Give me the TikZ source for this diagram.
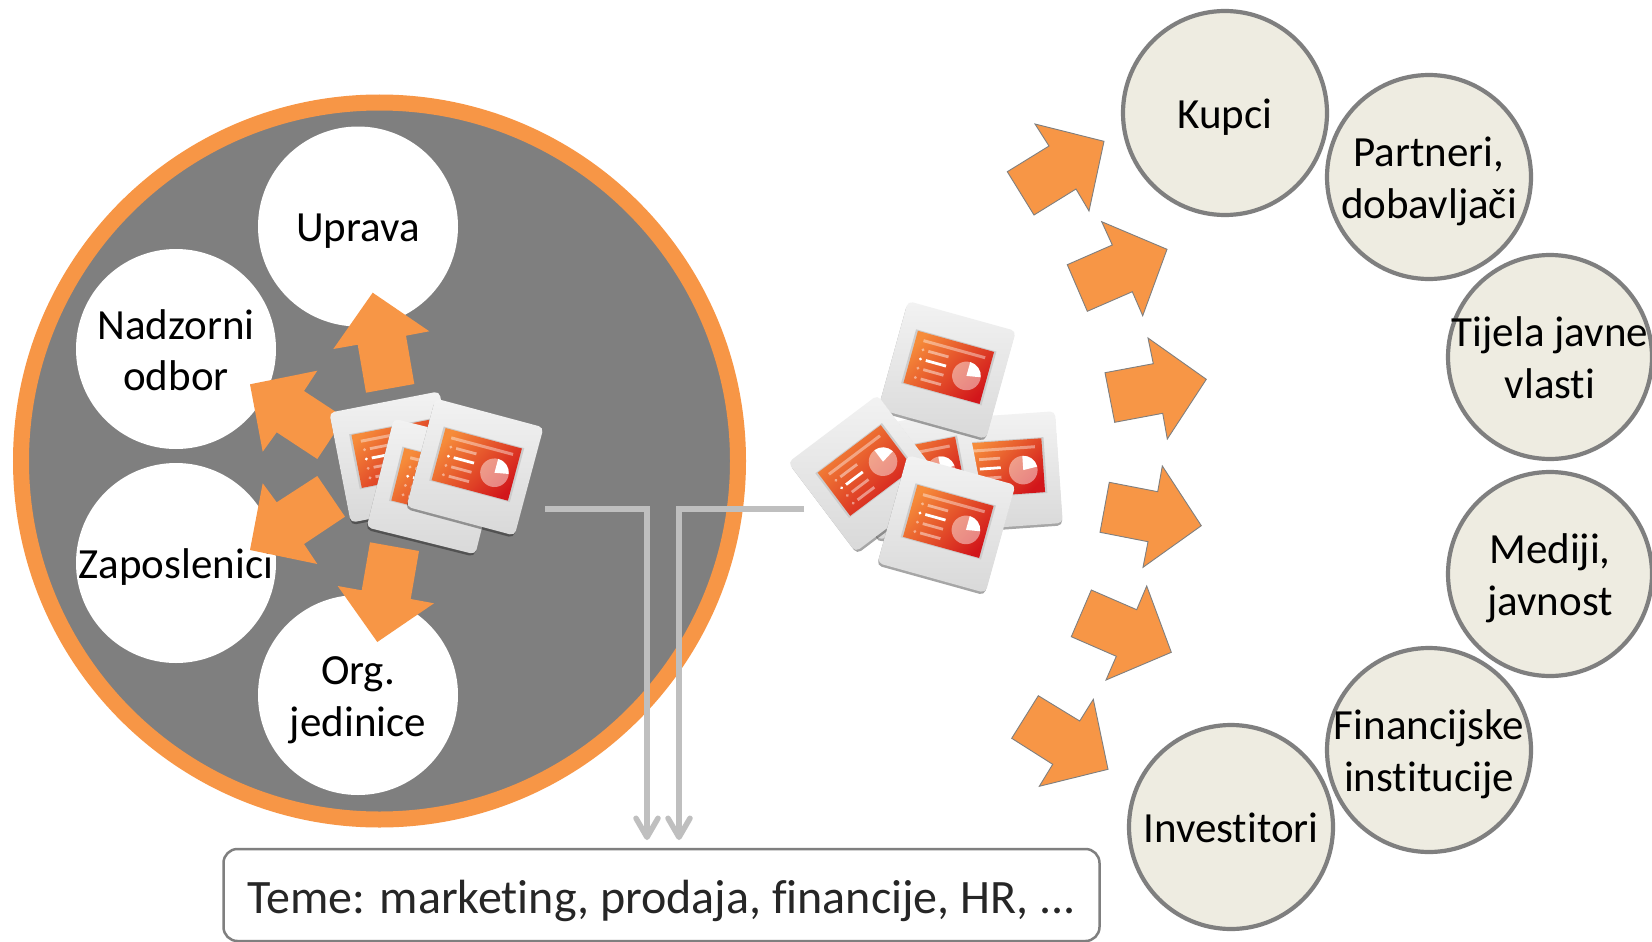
\documentclass[tikz,border=0pt]{standalone}
\usepackage{fontspec}
\setmainfont[Ligatures=NoCommon]{Carlito}
\usetikzlibrary{arrows.meta}
\definecolor{orangeA}{HTML}{F79646}
\definecolor{greyA}{HTML}{7F7F7F}
\definecolor{creamA}{HTML}{EEECE1}
\definecolor{lineA}{HTML}{BFBFBF}
\definecolor{panelA}{HTML}{F68C3A}
\definecolor{panelB}{HTML}{D2161B}
\tikzset{
  x=1pt,y=-1pt,
  label text/.style={font=\fontsize{43}{51.5}\selectfont,text=black,align=center,inner sep=0pt},
  inner circle/.style={circle,fill=white,minimum size=200pt,inner sep=0pt},
  outer circle/.style={circle,fill=creamA,draw=greyA,line width=4.2pt,minimum size=204pt,inner sep=0pt},
  block arrow/.style={fill=orangeA,draw=greyA,line width=0.9pt,line join=miter},
  inner block/.style={fill=orangeA,draw=none},
  flow line/.style={draw=lineA,line width=5.5pt,line join=miter,
    -{Straight Barb[length=19pt,width=22pt,round]}},
}
\newcommand{\slidecard}[3]{%
  \begin{scope}[shift={(#1,#2)},rotate=#3]
    \fill[black,opacity=.35,rounded corners=5pt] (-56,-54) rectangle (55.5,58.5);
    \shade[top color=white!95!black,bottom color=white!85!black,rounded corners=5pt] (-56,-56) rectangle (56,56);
    \fill[black!20] (-40.7,-31) rectangle (42.7,25);
    \shade[top color=panelA,bottom color=panelB,shading angle=45] (-38.5,-30) rectangle (40.5,24);
    \begin{scope}[shift={(1,-3)}]
      \fill[white,opacity=.4] (-31.5,-20.5) rectangle (32.5,-17.5);
      \foreach \yy/\op in {-10/.45,-.5/1,9/.45,18.7/.45}{
        \fill[white,opacity=\op] (-29.5,\yy) circle[radius=1.6pt];
        \fill[white,opacity=\op] (-24,\yy-1.4) rectangle (-3,\yy+1.4);
      }
      \fill[white,opacity=.45] (19.3,3.5) circle[radius=14.3pt];
      \fill[white] (19.3,3.5) -- (19.3,-10.8) arc[start angle=90,end angle=10,radius=14.3pt] -- cycle;
    \end{scope}
  \end{scope}}
\begin{document}
\begin{tikzpicture}
\useasboundingbox (0,0) rectangle (1652,942);
\fill[white] (0,0) rectangle (1652,942);
% big circle
\node[circle,fill=greyA,draw=orangeA,line width=16pt,minimum size=717pt,inner sep=0pt] (big) at (379.5,461) {};
% inner circles
\node[inner circle,label={[label text,yshift=-5pt]center:Uprava}] (uprava) at (358,226.5) {};
\node[inner circle,label={[label text,yshift=-1.2pt]center:{Nadzorni\\odbor}}] (nadzorni) at (176,349) {};
\node[inner circle,label={[label text,yshift=-4.5pt]center:Zaposlenici}] (zaposlenici) at (176,563) {};
\node[inner circle,label={[label text,yshift=-5pt]center:{Org.\\jedinice}}] (org) at (358,695) {};
% inner arrows
\fill[inner block] (372.7,292.7)--(429.3,331.3)--(406,335.7)--(414.3,384)--(366,392.7)--(357.7,344.7)--(333.3,349)--cycle;
\fill[inner block] (250,384.3)--(317.3,370.7)--(304,391)--(344.7,417.7)--(317.3,459)--(276.7,432.3)--(262.7,451.7)--cycle;
\fill[inner block] (250,550)--(317.3,564)--(304,544)--(345,516.7)--(317.3,476)--(276.7,502.3)--(262.7,483.3)--cycle;
\fill[inner block] (377.3,642)--(434,603.3)--(410.7,599)--(419,551)--(370,542.3)--(361.7,590.3)--(337.7,586)--cycle;
% left slides
\slidecard{395}{457}{11}
\slidecard{434.5}{486.5}{-14}
\slidecard{475}{467}{-15}
% outer circles
\node[outer circle,label={[label text,yshift=-4.5pt]center:Kupci}] (kupci) at (1225,113) {};
\node[outer circle,label={[label text,yshift=-4.5pt]center:{Partneri,\\dobavljači}}] (partneri) at (1429,177) {};
\node[outer circle,label={[label text,yshift=-0.8pt]center:{Tijela javne\\vlasti}}] (tijela) at (1550,357) {};
\node[outer circle,label={[label text,yshift=-4.5pt]center:{Mediji,\\javnost}}] (mediji) at (1550,574) {};
\node[outer circle,label={[label text,yshift=-4pt]center:{Financijske\\institucije}}] (fin) at (1429,750) {};
\node[outer circle,label={[label text,yshift=-1.2pt]center:Investitori}] (inv) at (1231,827) {};
% right slides
\slidecard{1003}{471}{4}
\slidecard{921}{474}{11}
\slidecard{947}{370}{-15.5}
\slidecard{866.5}{473.5}{37}
\slidecard{946.5}{524}{-15.5}
% outer arrows
\path[block arrow] (1035,124)--(1104,141.3)--(1089,211)--(1076,189)--(1034,215)--(1007.3,171.7)--(1049,146)--cycle;
\path[block arrow] (1101.7,221.7)--(1167,249.3)--(1142.7,315.7)--(1132.3,291.7)--(1087.3,311.3)--(1067.3,264.7)--(1112.3,245)--cycle;
\path[block arrow] (1148,338)--(1206.3,379.3)--(1167.3,439)--(1162.7,413.3)--(1114.7,422.3)--(1105,372.7)--(1153.3,363.7)--cycle;
\path[block arrow] (1162.3,466)--(1201.3,525.7)--(1143,567.3)--(1148,541.7)--(1100,532.3)--(1109.3,482.3)--(1157.7,491.7)--cycle;
\path[block arrow] (1146.7,586)--(1171.3,652.3)--(1106,680)--(1116.3,656.3)--(1071.3,636.7)--(1091.3,590)--(1136.7,609.7)--cycle;
\path[block arrow] (1093.3,699.3)--(1108,769.3)--(1039.3,786.3)--(1052.7,764.3)--(1011.7,738.3)--(1038.3,695.7)--(1079.7,721)--cycle;
% topic box
\node[draw=greyA,line width=2.5pt,rounded corners=14pt,fill=white,minimum width=876pt,minimum height=92pt,inner sep=0pt,label={[label text,font=\fontsize{48}{52}\selectfont,text=black!85,yshift=-6pt]center:{Teme: marketing, prodaja, financije, HR, ...}}] (teme) at (661.5,895) {};
% connectors
\coordinate (s1) at (545,509);
\coordinate (s2) at (804,509);
\coordinate (e1) at (647,840);
\coordinate (e2) at (679,840);
\draw[flow line] (s1) -| (e1);
\draw[flow line] (s2) -| (e2);
\end{tikzpicture}
\end{document}
